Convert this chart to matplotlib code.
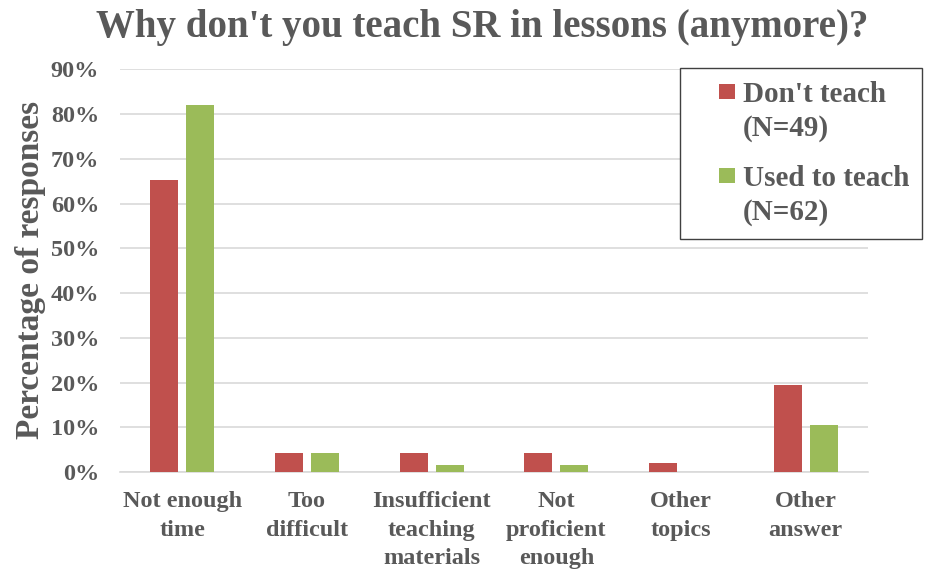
import numpy as np
import matplotlib.pyplot as plt
from matplotlib.patches import Rectangle
from matplotlib.legend_handler import HandlerPatch
from matplotlib.container import BarContainer

categorias = ['Not enough\ntime', 'Too\ndifficult', 'Insufficient\nteaching\nmaterials',
              'Not\nproficient\nenough', 'Other\ntopics', 'Other\nanswer']
nao_ensina = [65.2, 4.3, 4.3, 4.3, 2.1, 19.5]
ja_ensinou = [82.0, 4.3, 1.6, 1.6, 0.0, 10.5]
legenda_1 = "Don't teach\n(N=49)"
legenda_2 = 'Used to teach\n(N=62)'
ticks_y = [0, 10, 20, 30, 40, 50, 60, 70, 80, 90]

COR_1 = '#C0504D'
COR_2 = '#9BBB59'
COR_TEXTO = '#595959'

plt.rcParams['font.family'] = ['Liberation Serif', 'DejaVu Serif']
plt.rcParams['font.weight'] = 'bold'

fig = plt.figure(figsize=(9.32, 5.72), dpi=100)
ax = fig.add_axes([120 / 932, 1 - 472 / 572, 748 / 932, (472 - 69.3) / 572])

x = np.arange(len(categorias))
largura = 0.225
desloc = 0.145
ax.bar(x - desloc, nao_ensina, largura, color=COR_1, label=legenda_1, zorder=3)
ax.bar(x + desloc, ja_ensinou, largura, color=COR_2, label=legenda_2, zorder=3)

ax.set_xlim(-0.5, len(categorias) - 0.5)
ax.set_ylim(0, 90)
ax.set_yticks(ticks_y)
ax.set_yticklabels([f'{t}%' for t in ticks_y])
ax.set_xticks(x)
ax.set_xticklabels(categorias, linespacing=1.45)
ax.tick_params(axis='both', length=0, labelcolor=COR_TEXTO, labelsize=17.5)
ax.tick_params(axis='x', pad=14)
ax.tick_params(axis='y', pad=15)

ax.grid(axis='y', color='#D9D9D9', linewidth=1.2, zorder=0)
for lado in ['top', 'right', 'left']:
    ax.spines[lado].set_visible(False)
ax.spines['bottom'].set_color('#D9D9D9')
ax.spines['bottom'].set_linewidth(1.2)

fig.text(482 / 932, 1 - 27 / 572, "Why don't you teach SR in lessons (anymore)?",
         ha='center', va='center', fontsize=28, color=COR_TEXTO, fontweight='bold')
fig.text(31 / 932, 1 - 270 / 572, 'Percentage of responses', rotation=90,
         ha='center', va='center', fontsize=24, color=COR_TEXTO, fontweight='bold')


# quadradinho da legenda alinhado com a primeira linha do texto
def quadrado_primeira_linha(legend, orig_handle, xdescent, ydescent, width, height, fontsize):
    lado = 0.52 * fontsize
    return Rectangle((-xdescent + width - lado,
                      -ydescent + (height - lado) / 2 + 0.68 * fontsize), lado, lado)


def copia_cor(novo, original):
    novo.update_from(original.patches[0])


leg = ax.legend(loc='upper left', bbox_to_anchor=(680 / 932, 1 - 68 / 572),
                bbox_transform=fig.transFigure, borderaxespad=0, fancybox=False,
                edgecolor='#404040', fontsize=21, labelcolor=COR_TEXTO,
                handlelength=1.42, handleheight=0.7, handletextpad=0.28,
                borderpad=0.45, labelspacing=0.8, framealpha=1,
                handler_map={BarContainer: HandlerPatch(patch_func=quadrado_primeira_linha,
                                                        update_func=copia_cor)})
leg.get_frame().set_linewidth(1.0)
for t in leg.get_texts():
    t.set_linespacing(1.3)

fig.savefig('out.png', dpi=100, facecolor='white')
